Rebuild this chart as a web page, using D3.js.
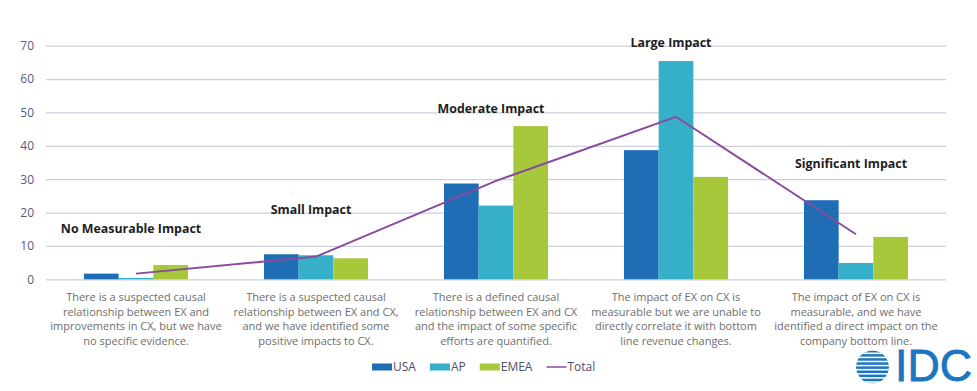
<!DOCTYPE html>
<html>
<head>
<meta charset="utf-8">
<script src="https://cdn.jsdelivr.net/npm/d3@7/dist/d3.min.js"></script>
<style>
  html, body { margin: 0; padding: 0; background: #ffffff; }
  svg { display: block; font-family: "Open Sans", "DejaVu Sans", sans-serif; }
</style>
</head>
<body>
<svg id="chart" width="977" height="391"></svg>
<script>
// ---- data ----
const categories = ["No Measurable Impact", "Small Impact", "Moderate Impact", "Large Impact", "Significant Impact"];
const categoryLabels = [
  ["There is a suspected causal", "relationship between  EX and", "improvements in CX, but we have", "no specific evidence."],
  ["There is a suspected causal", "relationship between  EX and CX,", "and we have identified some", "positive impacts to CX."],
  ["There is a defined causal", "relationship between  EX and CX", "and the impact of some specific", "efforts are quantified."],
  ["The impact of EX on CX is", "measurable but we are unable to", "directly correlate it with bottom", "line revenue changes."],
  ["The impact of EX on CX is", "measurable, and we have", "identified a direct impact on the", "company bottom line."]
];
const seriesNames = ["USA", "AP", "EMEA"];
const usaValues  = [1.7, 7.5, 28.7, 38.7, 23.7];
const apValues   = [0.4, 7.2, 22.1, 65.4, 4.9];
const emeaValues = [4.3, 6.3, 45.9, 30.7, 12.7];
const totalValues = [1.7, 6.8, 29.5, 48.7, 13.5];
const annotationLevels = [15.2, 21.0, 51.1, 71.0, 34.8];
const yTicks = [0, 10, 20, 30, 40, 50, 60, 70];

const colors = { USA: "#1f6db5", AP: "#36afc9", EMEA: "#a6c83a", Total: "#8a4b9e" };

// ---- layout ----
const svg = d3.select("#chart");
const mLeft = 46, mRight = 946, mTop = 45.7, mBottom = 279.3;

const x0 = d3.scaleBand().domain(categories).range([mLeft, mRight]).paddingInner(0.422).paddingOuter(0.211);
const x1 = d3.scaleBand().domain(seriesNames).range([0, x0.bandwidth()]).padding(0);
const y = d3.scaleLinear().domain([0, 70]).range([mBottom, mTop]);

// grid + y axis
const yAxis = d3.axisLeft(y).tickValues(yTicks).tickSize(-(mRight - mLeft)).tickPadding(12);
const gy = svg.append("g").attr("transform", `translate(${mLeft},0)`).call(yAxis);
gy.select(".domain").remove();
gy.selectAll(".tick line").attr("stroke", "#cfcfdc").attr("stroke-width", 1.3);
gy.selectAll(".tick text").attr("fill", "#58588a").attr("font-size", 12)
  .attr("font-family", "'Open Sans', sans-serif");

// bars
const rows = categories.map((c, i) => ({ cat: c, USA: usaValues[i], AP: apValues[i], EMEA: emeaValues[i] }));
const groups = svg.append("g").selectAll("g").data(rows).join("g")
  .attr("transform", d => `translate(${x0(d.cat)},0)`);
groups.selectAll("rect").data(d => seriesNames.map(k => ({ key: k, value: d[k] }))).join("rect")
  .attr("x", d => x1(d.key))
  .attr("width", x1.bandwidth())
  .attr("y", d => y(d.value))
  .attr("height", d => y(0) - y(d.value))
  .attr("fill", d => colors[d.key]);

// total line
const line = d3.line().x((d, i) => x0(categories[i]) + x0.bandwidth() / 2).y(d => y(d));
svg.append("path").datum(totalValues).attr("d", line)
  .attr("fill", "none").attr("stroke", colors.Total).attr("stroke-width", 2);

// annotations
svg.append("g").selectAll("text").data(categories).join("text")
  .attr("x", d => x0(d) + x0.bandwidth() / 2 - 5)
  .attr("y", (d, i) => y(annotationLevels[i]))
  .attr("dy", "0.35em")
  .attr("text-anchor", "middle")
  .attr("font-weight", "bold")
  .attr("font-size", 12.4)
  .attr("fill", "#1e1e1e")
  .text(d => d);

// category labels
const labelG = svg.append("g");
categories.forEach((c, i) => {
  const t = labelG.append("text")
    .attr("x", x0(c) + x0.bandwidth() / 2)
    .attr("y", 297)
    .attr("text-anchor", "middle")
    .attr("font-size", 11)
    .attr("fill", "#6e6e6e");
  categoryLabels[i].forEach((ln, j) => {
    t.append("tspan").attr("x", x0(c) + x0.bandwidth() / 2).attr("y", 297 + j * 14.7)
      .attr("dy", "0.35em").text(ln);
  });
});

// legend
const legendItems = ["USA", "AP", "EMEA", "Total"];
const legend = svg.append("g").attr("transform", "translate(372,367)");
let lx = 0;
legendItems.forEach(k => {
  const g = legend.append("g").attr("transform", `translate(${lx},0)`);
  if (k === "Total") {
    g.append("line").attr("x1", 0).attr("x2", 20).attr("y1", 0).attr("y2", 0)
      .attr("stroke", colors.Total).attr("stroke-width", 1.5);
  } else {
    g.append("rect").attr("x", 0).attr("y", -3.5).attr("width", 20).attr("height", 7).attr("fill", colors[k]);
  }
  const t = g.append("text").attr("x", 21).attr("y", 0).attr("dy", "0.35em")
    .attr("font-size", 12).attr("fill", "#4e4e6e").text(k);
  lx += 21 + t.node().getComputedTextLength() + 14;
});

// IDC logo
const logo = svg.append("g");
const defs = svg.append("defs");
defs.append("clipPath").attr("id", "globeClip").append("circle").attr("cx", 872.5).attr("cy", 367).attr("r", 16.5);
const globe = logo.append("g").attr("clip-path", "url(#globeClip)");
globe.append("circle").attr("cx", 872.5).attr("cy", 367).attr("r", 16.5).attr("fill", "#1b75c2");
d3.range(8).forEach(i => {
  globe.append("rect").attr("x", 850).attr("y", 352.5 + i * 4.1).attr("width", 45).attr("height", 1.6).attr("fill", "#ffffff");
});
logo.append("text").attr("x", 895).attr("y", 381).attr("font-family", "'Liberation Sans', Arial, sans-serif")
  .attr("font-size", 44).attr("fill", "#1b75c2")
  .attr("stroke", "#1b75c2").attr("stroke-width", 0.8)
  .attr("textLength", 77).attr("lengthAdjust", "spacingAndGlyphs").text("IDC");
</script>
</body>
</html>
